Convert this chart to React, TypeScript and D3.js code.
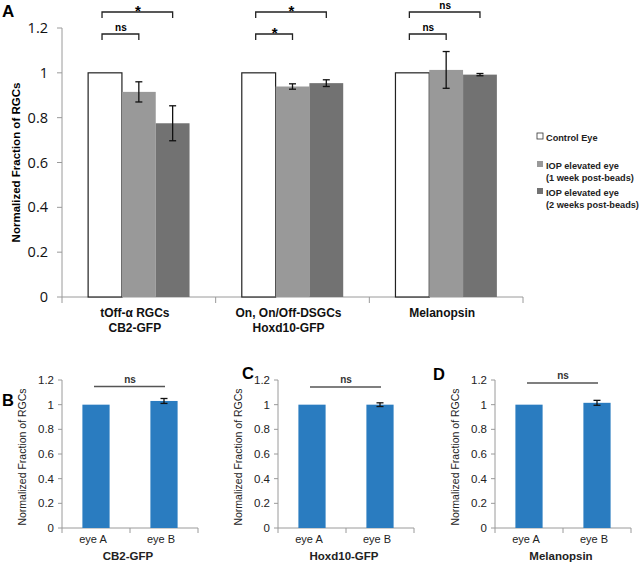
import React from "react";
import * as d3 from "d3";

// ---------- Panel A data ----------
const groupsA = ["g1", "g2", "g3"];
const groupLabelLines = [
  ["tOff-α RGCs", "CB2-GFP"],
  ["On, On/Off-DSGCs", "Hoxd10-GFP"],
  ["Melanopsin"],
];
const seriesA = ["control", "week1", "week2"];
const seriesLegend = [
  ["Control Eye"],
  ["IOP elevated eye", "(1 week post-beads)"],
  ["IOP elevated eye", "(2 weeks post-beads)"],
];
const controlValues = [1, 1, 1];
const week1Values = [0.915, 0.939, 1.013];
const week1Err = [0.045, 0.012, 0.082];
const week2Values = [0.775, 0.954, 0.992];
const week2Err = [0.078, 0.015, 0.005];
const outerSig = ["*", "*", "ns"];
const innerSig = ["ns", "*", "ns"];
const yTicksA = [0, 0.2, 0.4, 0.6, 0.8, 1, 1.2];

// ---------- Panels B-D data ----------
const smallLetters = ["B", "C", "D"];
const smallTitles = ["CB2-GFP", "Hoxd10-GFP", "Melanopsin"];
const eyeLabels = ["eye A", "eye B"];
const eyeAValues = [1, 1, 1];
const eyeBValues = [1.03, 1.0, 1.015];
const eyeBErr = [0.02, 0.015, 0.02];
const smallSig = ["ns", "ns", "ns"];
const yTicksSmall = [0, 0.2, 0.4, 0.6, 0.8, 1, 1.2];

const seriesFill = ["#ffffff", "#999999", "#727272"];
const BLUE = "#2a7cc0";
const AXIS = "#9a9a9a";

function PanelA() {
  const x0 = 62, x1 = 523, yb = 297, yt = 28;
  const y = d3.scaleLinear().domain([0, 1.2]).range([yb, yt]);
  const xg = d3.scaleBand().domain(groupsA).range([x0, x1]).padding(0);
  const bw = xg.bandwidth();
  const inner = d3.scaleBand().domain(seriesA).range([bw * 0.17, bw * 0.83]).padding(0);
  const vals = [controlValues, week1Values, week2Values];
  const errs = [null, week1Err, week2Err];
  const font = "'Liberation Sans', Arial, sans-serif";
  return (
    <g>
      <text x={2} y={17} fontSize={17} fontWeight="bold" fontFamily={font}>A</text>
      {/* y axis */}
      <line x1={x0} x2={x0} y1={yt} y2={yb} stroke={AXIS} />
      {yTicksA.map((t) => (
        <g key={t}>
          <line x1={x0 - 5} x2={x0} y1={y(t)} y2={y(t)} stroke={AXIS} />
          <text x={48} y={y(t) + 5} textAnchor="end" fontSize={14.5} fontFamily="'Open Sans', sans-serif" fill="#111">
            {String(t)}
          </text>
        </g>
      ))}
      <text
        transform={`translate(20,${(yt + yb) / 2}) rotate(-90)`}
        textAnchor="middle"
        fontSize={11.5}
        fontWeight="bold"
        fontFamily={font}
      >
        Normalized Fraction of RGCs
      </text>
      {/* x axis */}
      <line x1={x0} x2={x1} y1={yb} y2={yb} stroke={AXIS} />
      {[...groupsA.map((g) => xg(g) as number), x1].map((px, i) => (
        <line key={i} x1={px} x2={px} y1={yb} y2={yb + 6} stroke={AXIS} />
      ))}
      {groupsA.map((g, gi) => {
        const gx = xg(g) as number;
        const cx = gx + bw / 2;
        const centers = seriesA.map((s) => gx + (inner(s) as number) + inner.bandwidth() / 2);
        const yOuter = 12, yInner = 34;
        return (
          <g key={g}>
            {seriesA.map((s, si) => {
              const bx = gx + (inner(s) as number);
              const v = vals[si][gi];
              return (
                <rect
                  key={s}
                  x={bx}
                  y={y(v)}
                  width={inner.bandwidth()}
                  height={yb - y(v)}
                  fill={seriesFill[si]}
                  stroke={si === 0 ? "#222" : "none"}
                  strokeWidth={1.2}
                />
              );
            })}
            {seriesA.map((s, si) => {
              const e = errs[si];
              if (!e) return null;
              const v = vals[si][gi];
              const c = centers[si];
              return (
                <g key={"e" + s} stroke="#111" strokeWidth={1.3}>
                  <line x1={c} x2={c} y1={y(v + e[gi])} y2={y(v - e[gi])} />
                  <line x1={c - 3.5} x2={c + 3.5} y1={y(v + e[gi])} y2={y(v + e[gi])} />
                  <line x1={c - 3.5} x2={c + 3.5} y1={y(v - e[gi])} y2={y(v - e[gi])} />
                </g>
              );
            })}
            {/* significance brackets */}
            <path
              d={`M${centers[0] - 3},${yOuter + 6}V${yOuter}H${centers[2]}V${yOuter + 6}`}
              fill="none"
              stroke="#222"
              strokeWidth={1.3}
            />
            <text
              x={(centers[0] + centers[2]) / 2 - 1}
              y={outerSig[gi] === "*" ? yOuter + 4 : yOuter - 3}
              textAnchor="middle"
              fontSize={outerSig[gi] === "*" ? 15 : 10}
              fontWeight="bold"
              fontFamily={font}
            >
              {outerSig[gi]}
            </text>
            <path
              d={`M${centers[0] - 3},${yInner + 6}V${yInner}H${centers[1]}V${yInner + 6}`}
              fill="none"
              stroke="#222"
              strokeWidth={1.3}
            />
            <text
              x={(centers[0] + centers[1]) / 2 - 1}
              y={innerSig[gi] === "*" ? yInner + 4 : yInner - 3}
              textAnchor="middle"
              fontSize={innerSig[gi] === "*" ? 15 : 10}
              fontWeight="bold"
              fontFamily={font}
            >
              {innerSig[gi]}
            </text>
            {groupLabelLines[gi].map((ln, li) => (
              <text key={li} x={cx - 4} y={317 + li * 15} textAnchor="middle" fontSize={12} fontWeight="bold" fontFamily={font} fill="#111">
                {ln}
              </text>
            ))}
          </g>
        );
      })}
      {/* legend */}
      {seriesLegend.map((lines, si) => {
        const ly = [137, 165, 192][si];
        return (
          <g key={si}>
            <rect x={537} y={ly - 4} width={6} height={6} fill={seriesFill[si]} stroke={si === 0 ? "#333" : "none"} strokeWidth={0.8} />
            {lines.map((ln, li) => (
              <text key={li} x={546} y={ly + 3.5 + li * 12} fontSize={9.2} fontWeight="bold" fontFamily={font} fill="#222">
                {ln}
              </text>
            ))}
          </g>
        );
      })}
    </g>
  );
}

function SmallPanel({ idx }: { idx: number }) {
  const offsets = [0, 216, 433];
  const ox = offsets[idx];
  const x0 = 62 + ox, x1 = 198 + ox, yb = 528, yt = 380;
  const y = d3.scaleLinear().domain([0, 1.2]).range([yb, yt]);
  const x = d3.scaleBand().domain(eyeLabels).range([x0, x1]).padding(0);
  const bw = x.bandwidth();
  const barW = bw * 0.4;
  const vals = [eyeAValues[idx], eyeBValues[idx]];
  const font = "'Liberation Sans', Arial, sans-serif";
  const cA = (x(eyeLabels[0]) as number) + bw / 2;
  const cB = (x(eyeLabels[1]) as number) + bw / 2;
  return (
    <g>
      <text x={[2, 242, 433][idx]} y={[406, 379, 380][idx]} fontSize={16.5} fontWeight="bold" fontFamily={font}>
        {smallLetters[idx]}
      </text>
      <line x1={x0} x2={x0} y1={yt} y2={yb} stroke={AXIS} />
      {yTicksSmall.map((t) => (
        <g key={t}>
          <line x1={x0 - 4} x2={x0} y1={y(t)} y2={y(t)} stroke={AXIS} />
          <text x={x0 - 8} y={y(t) + 4} textAnchor="end" fontSize={11.5} fontFamily={font} fill="#222">
            {String(t)}
          </text>
        </g>
      ))}
      <text
        transform={`translate(${x0 - 36},${(yt + yb) / 2 + 3}) rotate(-90)`}
        textAnchor="middle"
        fontSize={10.5}
        fontFamily={font}
        fill="#222"
      >
        Normalized Fraction of RGCs
      </text>
      <line x1={x0} x2={x1} y1={yb} y2={yb} stroke={AXIS} />
      {[x0, x0 + bw, x1].map((px, i) => (
        <line key={i} x1={px} x2={px} y1={yb} y2={yb + 5} stroke={AXIS} />
      ))}
      {eyeLabels.map((lab, i) => {
        const c = (x(lab) as number) + bw / 2;
        return (
          <g key={lab}>
            <rect x={c - barW / 2} y={y(vals[i])} width={barW} height={yb - y(vals[i])} fill={BLUE} />
            <text x={c - 3} y={yb + 15} textAnchor="middle" fontSize={11} fontFamily={font} fill="#222">
              {lab}
            </text>
          </g>
        );
      })}
      <g stroke="#111" strokeWidth={1.3}>
        <line x1={cB} x2={cB} y1={y(vals[1] + eyeBErr[idx])} y2={y(vals[1] - eyeBErr[idx])} />
        <line x1={cB - 3.5} x2={cB + 3.5} y1={y(vals[1] + eyeBErr[idx])} y2={y(vals[1] + eyeBErr[idx])} />
        <line x1={cB - 3.5} x2={cB + 3.5} y1={y(vals[1] - eyeBErr[idx])} y2={y(vals[1] - eyeBErr[idx])} />
      </g>
      <line x1={cA - 2} x2={cB + 1} y1={[386.5, 387, 383][idx]} y2={[386.5, 387, 383][idx]} stroke="#555" strokeWidth={1.5} />
      <text x={(cA + cB) / 2} y={[383, 383, 379][idx]} textAnchor="middle" fontSize={10} fontWeight="bold" fontFamily={font} fill="#333">
        {smallSig[idx]}
      </text>
      <text x={(x0 + x1) / 2 - 2} y={yb + 32} textAnchor="middle" fontSize={11.5} fontWeight="bold" fontFamily={font} fill="#222">
        {smallTitles[idx]}
      </text>
    </g>
  );
}

export default function App() {
  return (
    <svg width={640} height={568} style={{ position: "absolute", left: 0, top: 0, background: "#fff" }}>
      <rect width={640} height={568} fill="#fff" />
      <PanelA />
      <SmallPanel idx={0} />
      <SmallPanel idx={1} />
      <SmallPanel idx={2} />
    </svg>
  );
}
